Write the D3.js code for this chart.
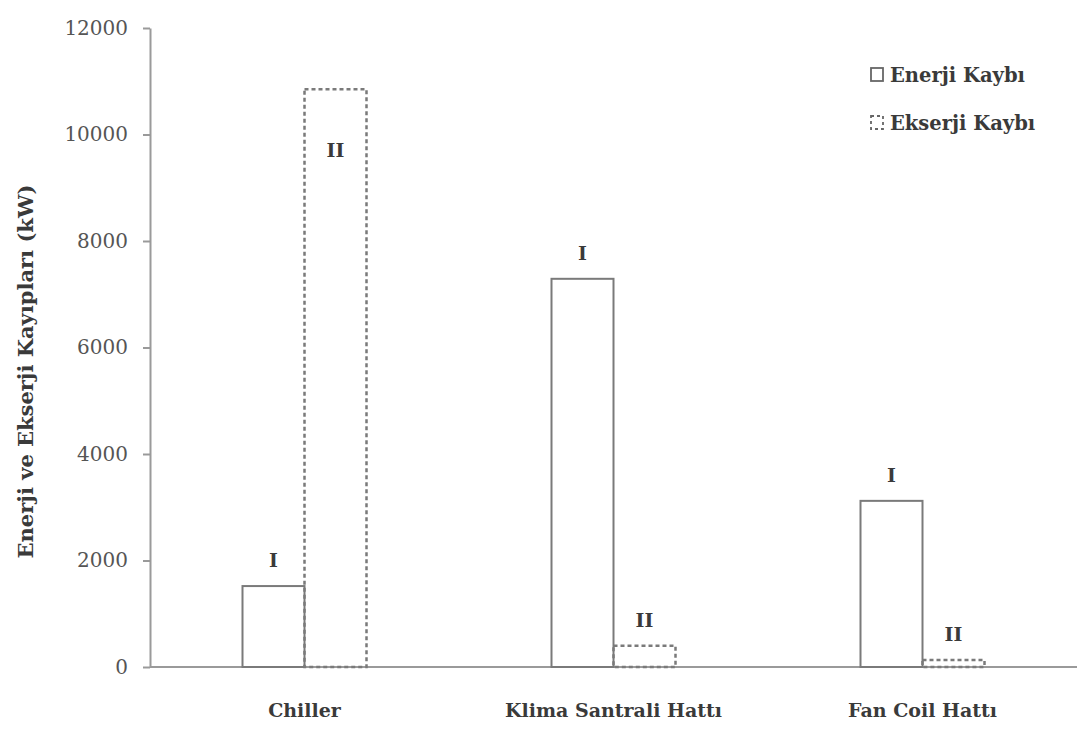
<!DOCTYPE html>
<html>
<head>
<meta charset="utf-8">
<script src="https://cdn.jsdelivr.net/npm/d3@7"></script>
<style>
  html, body { margin: 0; padding: 0; background: #fff; }
  svg { display: block; }
  text { font-family: "DejaVu Serif", "Liberation Serif", serif; }
</style>
</head>
<body>
<svg id="chart" width="1092" height="731"></svg>
<script>
// Energy and exergy losses per subsystem (kW)
const categories = ["Chiller", "Klima Santrali Hattı", "Fan Coil Hattı"];
const energyLoss = [1520, 7290, 3120];
const exergyLoss = [10850, 400, 130];
const seriesNames = ["Enerji Kaybı", "Ekserji Kaybı"];
const seriesMarks = ["I", "II"];
const yTicks = [0, 2000, 4000, 6000, 8000, 10000, 12000];

const svg = d3.select("#chart");
const plot = { left: 150, right: 1077, top: 28, bottom: 667 };
const barWidth = 62;
const axisColor = "#9a9a9a";
const barColor = "#7a7a7a";
const textColor = "#3a3a3a";

const x0 = d3.scaleBand().domain(categories).range([plot.left, plot.right]);
const x1 = d3.scaleBand().domain(seriesNames).range([-barWidth, barWidth]);
const y = d3.scaleLinear().domain([0, 12000]).range([plot.bottom, plot.top]);

// Y axis
const yAxis = svg.append("g")
  .attr("transform", `translate(${plot.left},0)`)
  .call(d3.axisLeft(y).tickValues(yTicks).tickFormat(d3.format("d"))
    .tickSize(7).tickPadding(15).tickSizeOuter(0));
yAxis.select(".domain").attr("stroke", axisColor).attr("stroke-width", 2);
yAxis.selectAll(".tick line").attr("stroke", axisColor).attr("stroke-width", 2);
yAxis.selectAll(".tick text")
  .attr("fill", "#555")
  .style("font-family", "'DejaVu Serif', serif")
  .style("font-size", "20px");

// X baseline
svg.append("line")
  .attr("x1", plot.left).attr("x2", plot.right)
  .attr("y1", y(0)).attr("y2", y(0))
  .attr("stroke", axisColor).attr("stroke-width", 2);

// Category labels
svg.append("g").selectAll("text")
  .data(categories)
  .join("text")
  .attr("x", d => x0(d) + x0.bandwidth() / 2)
  .attr("y", 717)
  .attr("text-anchor", "middle")
  .attr("fill", textColor)
  .style("font-size", "19px")
  .style("font-weight", "bold")
  .text(d => d);

// Y axis title
svg.append("text")
  .attr("transform", `translate(33,${(plot.top + plot.bottom) / 2 + 24}) rotate(-90)`)
  .attr("text-anchor", "middle")
  .attr("fill", textColor)
  .style("font-size", "21px")
  .style("font-weight", "bold")
  .text("Enerji ve Ekserji Kayıpları (kW)");

// Bars
const series = [energyLoss, exergyLoss];
const rows = [];
categories.forEach((c, i) => {
  seriesNames.forEach((s, j) => rows.push({ cat: c, name: s, idx: j, value: series[j][i] }));
});

const center = d => x0(d.cat) + x0.bandwidth() / 2;

svg.append("g").selectAll("rect")
  .data(rows)
  .join("rect")
  .attr("x", d => center(d) + x1(d.name))
  .attr("y", d => y(d.value))
  .attr("width", x1.bandwidth())
  .attr("height", d => y(0) - y(d.value))
  .attr("fill", "none")
  .attr("stroke", barColor)
  .attr("stroke-width", d => d.idx === 0 ? 2 : 2.5)
  .attr("stroke-dasharray", d => d.idx === 0 ? null : "4,3");

// Roman numeral markers above (or inside, for the tallest) bars
const inside = v => v > 10000;
svg.append("g").selectAll("text")
  .data(rows)
  .join("text")
  .attr("x", d => center(d) + x1(d.name) + x1.bandwidth() / 2)
  .attr("y", d => inside(d.value) ? y(d.value) + 68 : y(d.value) - 19)
  .attr("text-anchor", "middle")
  .attr("fill", textColor)
  .style("font-size", "19px")
  .style("font-weight", "bold")
  .text(d => seriesMarks[d.idx]);

// Legend
const legend = svg.append("g").attr("transform", "translate(871,0)");
seriesNames.forEach((name, j) => {
  const cy = 75 + j * 48;
  legend.append("rect")
    .attr("x", 0).attr("y", cy - 7)
    .attr("width", 12).attr("height", 13)
    .attr("fill", "none")
    .attr("stroke", "#666")
    .attr("stroke-width", 1.8)
    .attr("stroke-dasharray", j === 0 ? null : "3,3");
  legend.append("text")
    .attr("x", 19).attr("y", cy + 7)
    .attr("fill", textColor)
    .style("font-size", "19.5px")
    .style("font-weight", "bold")
    .text(name);
});
</script>
</body>
</html>
